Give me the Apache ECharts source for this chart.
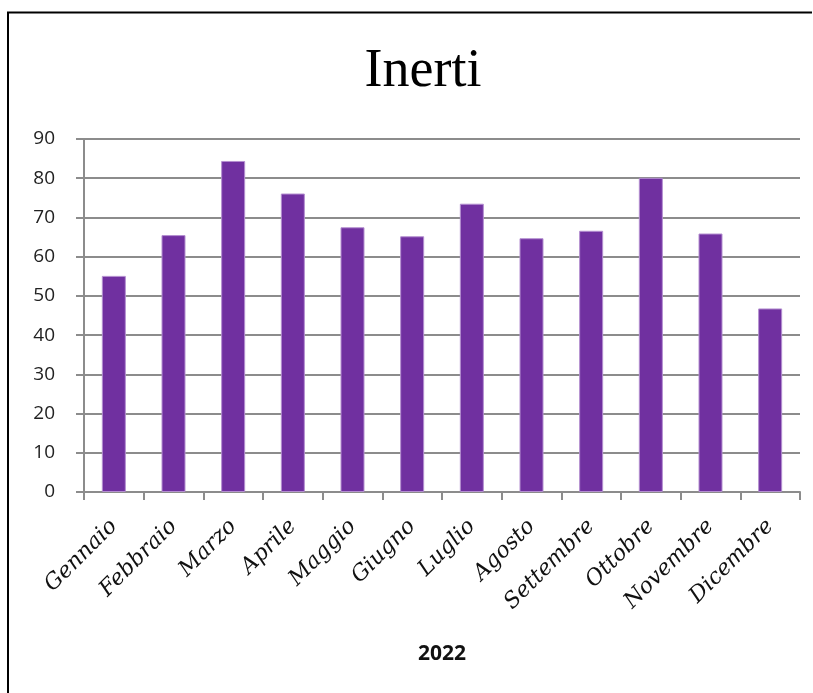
<!DOCTYPE html>
<html>
<head>
<meta charset="utf-8">
<script src="https://cdn.jsdelivr.net/npm/echarts@6/dist/echarts.min.js"></script>
<style>
  html, body { margin: 0; padding: 0; background: #fff; }
  #chart { width: 813px; height: 693px; }
</style>
</head>
<body>
<div id="chart"></div>
<script>
const mesi = ['Gennaio', 'Febbraio', 'Marzo', 'Aprile', 'Maggio', 'Giugno',
  'Luglio', 'Agosto', 'Settembre', 'Ottobre', 'Novembre', 'Dicembre'];
const valori = [55.1, 65.5, 84.4, 76.1, 67.5, 65.2, 73.5, 64.7, 66.6, 80.1, 65.9, 46.8];
const titolo = 'Inerti';
const anno = '2022';

const chart = echarts.init(document.getElementById('chart'));

let option = {
  animation: false,
  backgroundColor: '#fff',
  title: {
    text: titolo,
    left: 418,
    top: 40,
    textAlign: 'center',
    textStyle: {
      fontFamily: 'Liberation Serif',
      fontWeight: 'normal',
      fontSize: 54,
      color: '#000'
    }
  },
  graphic: [
    {
      type: 'polyline',
      shape: { points: [[8, 693], [8, 12.5], [812, 12.5]] },
      style: { stroke: '#000', lineWidth: 2, fill: null }
    }
  ],
  grid: { left: 84, right: 13, top: 139, bottom: 201 },
  xAxis: {
    type: 'category',
    data: mesi,
    name: anno,
    nameLocation: 'middle',
    nameGap: 152,
    nameTextStyle: {
      fontFamily: 'Open Sans',
      fontWeight: 'bold',
      fontSize: 21,
      color: '#111'
    },
    axisLine: { lineStyle: { color: '#8c8c8c', width: 2 } },
    axisTick: { show: true, length: 8, lineStyle: { color: '#8c8c8c', width: 2 } },
    axisLabel: {
      rotate: 45,
      margin: 31,
      interval: 0,
      fontFamily: 'DejaVu Serif',
      fontStyle: 'italic',
      fontWeight: 'lighter',
      fontSize: 22,
      color: '#111'
    }
  },
  yAxis: {
    type: 'value',
    min: 0,
    max: 90,
    interval: 10,
    axisLine: { show: true, lineStyle: { color: '#8c8c8c', width: 2 } },
    axisTick: { show: true, length: 8, lineStyle: { color: '#8c8c8c', width: 2 } },
    splitLine: { lineStyle: { color: '#8c8c8c', width: 2 } },
    axisLabel: {
      margin: 29,
      fontFamily: 'Open Sans',
      fontSize: 19,
      color: '#222'
    }
  },
  series: [
    {
      type: 'bar',
      data: valori,
      barWidth: 24,
      itemStyle: {
        color: '#7030a0',
        borderColor: '#b48fd0',
        borderWidth: 1
      }
    }
  ]
};

chart.setOption(option);
</script>
</body>
</html>
